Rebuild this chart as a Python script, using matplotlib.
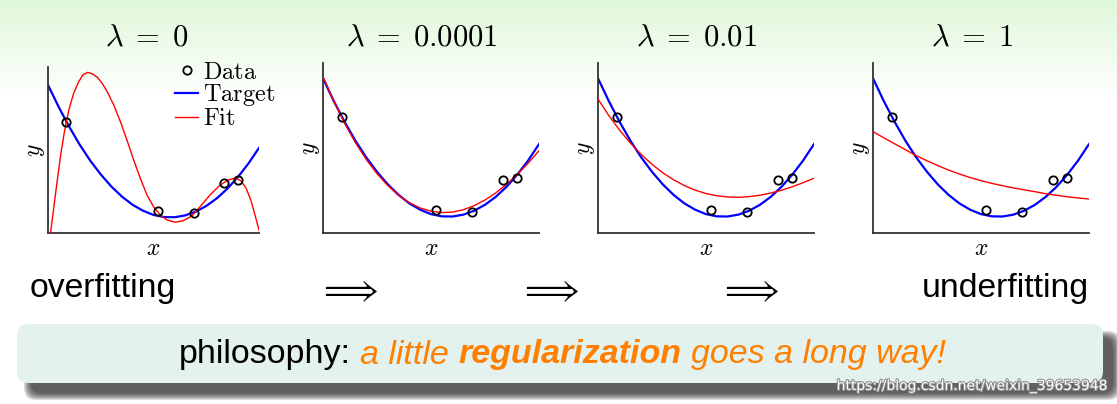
import numpy as np
import matplotlib.pyplot as plt
from matplotlib.patches import FancyBboxPatch
import matplotlib.patheffects as pe

plt.rcParams['mathtext.fontset'] = 'cm'

# 数据（从图中读取，x、y 都缩放到 0..1）
x_data = [0.087, 0.523, 0.691, 0.832, 0.900]
y_data = [0.680, 0.135, 0.124, 0.310, 0.325]

x_grid = [0.00, 0.05, 0.10, 0.15, 0.20, 0.25, 0.30, 0.35, 0.40, 0.45, 0.50,
          0.55, 0.60, 0.65, 0.70, 0.75, 0.80, 0.85, 0.90, 0.95, 1.00]
y_target = [0.910, 0.776, 0.654, 0.543, 0.445, 0.360, 0.286, 0.224, 0.174, 0.137, 0.111,
            0.098, 0.097, 0.108, 0.131, 0.166, 0.213, 0.272, 0.344, 0.427, 0.523]
y_fit_0001 = [0.920, 0.775, 0.645, 0.532, 0.433, 0.349, 0.279, 0.222, 0.178, 0.147, 0.128,
              0.120, 0.123, 0.137, 0.161, 0.194, 0.236, 0.287, 0.345, 0.411, 0.484]
y_fit_001 = [0.788, 0.691, 0.605, 0.529, 0.462, 0.404, 0.354, 0.313, 0.279, 0.252, 0.232,
             0.219, 0.212, 0.210, 0.214, 0.222, 0.235, 0.252, 0.272, 0.296, 0.322]
y_fit_1 = [0.596, 0.560, 0.525, 0.490, 0.455, 0.425, 0.397, 0.370, 0.347, 0.326, 0.308,
           0.292, 0.278, 0.265, 0.254, 0.243, 0.231, 0.222, 0.213, 0.206, 0.200]

# lambda = 0 的过拟合曲线
x_fit_0 = [0.012, 0.024, 0.040, 0.059, 0.078, 0.099, 0.122, 0.146, 0.166, 0.188, 0.210,
           0.233, 0.256, 0.280, 0.311, 0.343, 0.374, 0.406, 0.437, 0.469, 0.500, 0.532,
           0.564, 0.603, 0.642, 0.682, 0.721, 0.768, 0.816, 0.855, 0.887, 0.913, 0.939,
           0.961, 0.981, 1.000]
y_fit_0 = [0.000, 0.121, 0.285, 0.470, 0.624, 0.757, 0.860, 0.931, 0.972, 0.987, 0.978,
           0.958, 0.921, 0.870, 0.788, 0.685, 0.572, 0.449, 0.337, 0.234, 0.162, 0.111,
           0.080, 0.066, 0.076, 0.105, 0.162, 0.234, 0.295, 0.326, 0.337, 0.322, 0.275,
           0.203, 0.111, 0.018]

titles = [r'$\lambda \;=\; 0$', r'$\lambda \;=\; 0.0001$', r'$\lambda \;=\; 0.01$', r'$\lambda \;=\; 1$']
fits_x = [x_fit_0, x_grid, x_grid, x_grid]
fits_y = [y_fit_0, y_fit_0001, y_fit_001, y_fit_1]

W, H = 1117, 404
fig = plt.figure(figsize=(W / 100, H / 100), dpi=100)

# 背景（顶部淡绿色渐变），用像素坐标
bg = fig.add_axes([0, 0, 1, 1], zorder=0)
bg.set_xlim(0, W)
bg.set_ylim(H, 0)
bg.axis('off')
rows = np.arange(H)
t = np.clip(1 - rows / 95.0, 0, 1)[:, None, None]
top = np.array([0.875, 0.972, 0.85])[None, None, :]
grad = (1 - t) * 1.0 + t * top
bg.imshow(grad, extent=[0, W, H, 0], aspect='auto', zorder=0)

# 四个子图（像素位置: 左, 右, 上, 下）
boxes = [(48, 259, 67, 233), (323, 539, 63, 233), (598, 814, 63, 233), (873, 1089, 63, 233)]
title_x = [147, 422, 697, 972]
orange = '#ff8000'

for i in range(4):
    l, r, tp, b = boxes[i]
    ax = fig.add_axes([l / W, 1 - b / H, (r - l) / W, (b - tp) / H], zorder=1)
    ax.patch.set_alpha(0)
    ax.plot(x_grid, y_target, color='blue', lw=1.6, label=r'$\mathrm{Target}$', zorder=2)
    ax.plot(fits_x[i], fits_y[i], color='red', lw=1.0, label=r'$\mathrm{Fit}$', zorder=3)
    ax.plot(x_data, y_data, 'o', mfc='none', mec='black', ms=6, mew=1.3,
            label=r'$\mathrm{Data}$', zorder=4)
    ax.set_xlim(0, 1)
    ax.set_ylim(0, (b - tp) / 170 if i > 0 else 1.02)
    ax.set_xticks([])
    ax.set_yticks([])
    for s in ['top', 'right']:
        ax.spines[s].set_visible(False)
    for s in ['left', 'bottom']:
        ax.spines[s].set_color('#333333')
        ax.spines[s].set_linewidth(1.3)
    ax.set_xlabel(r'$x$', fontsize=17, labelpad=2)
    ax.set_ylabel(r'$y$', fontsize=17, labelpad=1)
    bg.text(title_x[i], 37, titles[i], fontsize=22, ha='center', va='center')

    if i == 0:
        h, lab = ax.get_legend_handles_labels()
        ax.legend([h[2], h[0], h[1]], [lab[2], lab[0], lab[1]], loc='upper left',
                  bbox_to_anchor=(175 / W, 1 - 60 / H), bbox_transform=fig.transFigure,
                  frameon=False, fontsize=17.5, numpoints=1, handlelength=0.95,
                  handletextpad=0.2, labelspacing=-0.08, borderpad=0, borderaxespad=0)

# 底部文字和箭头
sans = 'Liberation Sans'
bg.text(30, 289, 'overfitting', fontsize=24.3, family=sans, ha='left', va='center')
bg.text(1089, 289, 'underfitting', fontsize=24.3, family=sans, ha='right', va='center')
for xa in [347, 548, 748]:
    bg.text(xa, 290, r'$\Longrightarrow$', fontsize=25, ha='center', va='center')

# 圆角框和阴影
for k, e in enumerate([5, 4, 3, 2, 1, 0, -1, -2]):
    sh = FancyBboxPatch((17 + 12 - e, 324 + 12 - e), 1086 + 2 * e, 59 + 2 * e,
                        boxstyle='round,pad=0,rounding_size=12',
                        fc='#303030', ec='none', alpha=0.16, zorder=1)
    bg.add_patch(sh)
box = FancyBboxPatch((17, 324), 1086, 59, boxstyle='round,pad=0,rounding_size=12',
                     fc='#e3f2ee', ec='none', zorder=2)
bg.add_patch(box)

# 框里的文字，分段拼接
pieces = [('philosophy:', 'black', 'normal', 'normal'),
          ('a little', orange, 'italic', 'normal'),
          ('regularization', orange, 'italic', 'bold'),
          ('goes a long way!', orange, 'italic', 'normal')]
fs = 24.5
space = 0.278 * fs * 100 / 72
renderer = fig.canvas.get_renderer()
texts, widths = [], []
for s, c, st, wt in pieces:
    tx = bg.text(0, 355, s, fontsize=fs, family=sans, color=c, style=st, weight=wt,
                 ha='left', va='center', zorder=3)
    texts.append(tx)
    widths.append(tx.get_window_extent(renderer).width)
total = sum(widths) + space * (len(pieces) - 1)
xpos = 562 - total / 2
for tx, w in zip(texts, widths):
    tx.set_x(xpos)
    xpos += w + space

# 水印
bg.text(1107, 386, 'https://blog.csdn.net/weixin_39653948', fontsize=10, family='DejaVu Sans',
        color='white', ha='right', va='center', zorder=4,
        path_effects=[pe.withStroke(linewidth=1.5, foreground='#8a8a8a')])

plt.savefig('out.png', dpi=100)
